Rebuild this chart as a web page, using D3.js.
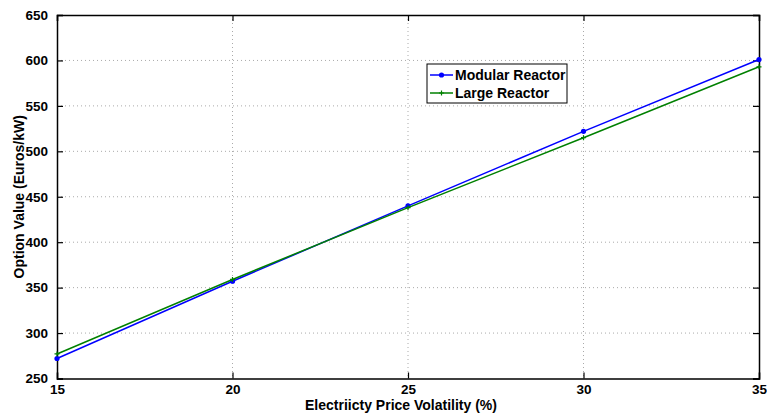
<!DOCTYPE html>
<html><head><meta charset="utf-8">
<script src="https://cdn.jsdelivr.net/npm/d3@7"></script>
<style>body{margin:0;background:#fff}text{font-family:"Liberation Sans",Arial,sans-serif;font-weight:bold}</style>
</head><body><svg id="c" width="767" height="414"></svg>
<script>
const volatility = [15, 20, 25, 30, 35];
const modularReactor = [272, 357, 440, 522, 601];
const largeReactor = [277, 359, 438, 515, 593];
const xTicks = [15, 20, 25, 30, 35];
const yTicks = [250, 300, 350, 400, 450, 500, 550, 600, 650];
const seriesNames = ["Modular Reactor", "Large Reactor"];
const seriesColors = ["#0000ff", "#008000"];

const svg = d3.select("#c");
const L = 57, R = 759, T = 15, B = 378.5;
const x = d3.scaleLinear().domain([15, 35]).range([L, R]);
const y = d3.scaleLinear().domain([250, 650]).range([B, T]);

// grid
const g = svg.append("g");
g.selectAll(".gx").data(xTicks.slice(1, -1)).join("line")
  .attr("x1", d => x(d)).attr("x2", d => x(d)).attr("y1", T).attr("y2", B)
  .attr("stroke", "#aaa").attr("stroke-width", 1).attr("stroke-dasharray", "1,3");
g.selectAll(".gy").data(yTicks.slice(1, -1)).join("line")
  .attr("x1", L).attr("x2", R).attr("y1", d => y(d)).attr("y2", d => y(d))
  .attr("stroke", "#aaa").attr("stroke-width", 1).attr("stroke-dasharray", "1,3");

// axes
const xa = svg.append("g").attr("transform", `translate(0,${B})`)
  .call(d3.axisBottom(x).tickValues(xTicks).tickSize(-6).tickPadding(6).tickFormat(d3.format("d")));
const xaT = svg.append("g").attr("transform", `translate(0,${T})`)
  .call(d3.axisTop(x).tickValues(xTicks).tickSize(-6).tickFormat(""));
const ya = svg.append("g").attr("transform", `translate(${L},0)`)
  .call(d3.axisLeft(y).tickValues(yTicks).tickSize(-6).tickPadding(9).tickFormat(d3.format("d")));
const yaR = svg.append("g").attr("transform", `translate(${R},0)`)
  .call(d3.axisRight(y).tickValues(yTicks).tickSize(-6).tickFormat(""));
[xa, xaT, ya, yaR].forEach(a => {
  a.select(".domain").attr("stroke", "#000").attr("stroke-width", 1.5);
  a.selectAll(".tick line").attr("stroke", "#000").attr("stroke-width", 1.2);
  a.selectAll("text").attr("fill", "#000").style("font-size", "13.5px").style("font-weight", "bold")
    .style("font-family", "Liberation Sans, Arial, sans-serif");
});
xa.selectAll("text").attr("dy", "0.71em");

// axis titles
svg.append("text").attr("x", (L + R) / 2 - 7).attr("y", 410).attr("text-anchor", "middle")
  .style("font-size", "14px").text("Electriicty Price Volatility (%)");
svg.append("text").attr("transform", `translate(24,${(T + B) / 2}) rotate(-90)`)
  .attr("text-anchor", "middle").style("font-size", "14px").text("Option Value (Euros/kW)");

// lines
const series = [modularReactor, largeReactor];
const line = d3.line().x((d, i) => x(volatility[i])).y(d => y(d));
series.forEach((s, k) => {
  svg.append("path").datum(s).attr("d", line).attr("fill", "none")
    .attr("stroke", seriesColors[k]).attr("stroke-width", 1.5);
  if (k === 0) {
    svg.selectAll(null).data(s).join("circle")
      .attr("cx", (d, i) => x(volatility[i])).attr("cy", d => y(d)).attr("r", 2.6)
      .attr("fill", seriesColors[k]);
  } else {
    svg.selectAll(null).data(s).join("path")
      .attr("d", (d, i) => { const cx = x(volatility[i]), cy = y(d); return `M${cx-2.5},${cy}H${cx+2.5}M${cx},${cy-2.5}V${cy+2.5}`; })
      .attr("stroke", seriesColors[k]).attr("stroke-width", 1.2);
  }
});

// legend
const lg = svg.append("g").attr("transform", "translate(427,64)");
lg.append("rect").attr("width", 140).attr("height", 39).attr("fill", "#fff")
  .attr("stroke", "#000").attr("stroke-width", 1);
seriesNames.forEach((n, k) => {
  const yy = 11 + k * 18;
  lg.append("line").attr("x1", 3).attr("x2", 26).attr("y1", yy).attr("y2", yy)
    .attr("stroke", seriesColors[k]).attr("stroke-width", 1.5);
  if (k === 0) lg.append("circle").attr("cx", 14.5).attr("cy", yy).attr("r", 2.6).attr("fill", seriesColors[k]);
  else lg.append("path").attr("d", `M12,${yy}H17M14.5,${yy-2.5}V${yy+2.5}`).attr("stroke", seriesColors[k]).attr("stroke-width", 1.2);
  lg.append("text").attr("x", 28).attr("y", yy).attr("dy", "0.35em").style("font-size", "14px").text(n);
});
</script></body></html>
